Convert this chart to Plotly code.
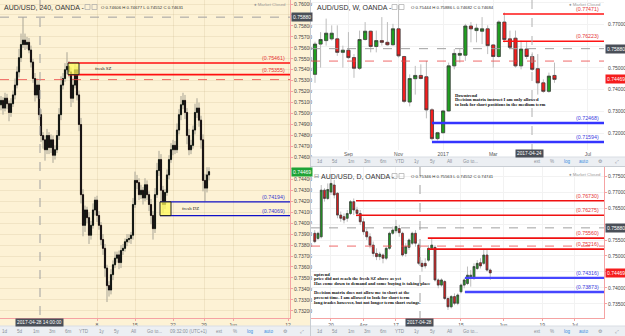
import plotly.graph_objects as go

# ======================= DATA =======================
# Left pane: AUD/USD, 240 (4-hour bars), bar index 0..104
H4_FIRST_OPEN = 0.7508
H4_CLOSE = [0.7512, 0.7505, 0.7514, 0.7509, 0.7501, 0.7509, 0.7517, 0.7526, 0.7538, 0.7551,
            0.7563, 0.7567, 0.7563, 0.7565, 0.7558, 0.7547, 0.7532, 0.7517, 0.7526, 0.7499,
            0.7480, 0.7476, 0.7467, 0.7480, 0.7469, 0.7476, 0.7462, 0.7467, 0.7480, 0.7499,
            0.7526, 0.7532, 0.7540, 0.7543, 0.7538, 0.7514, 0.7526, 0.7540, 0.7517, 0.7490,
            0.7426, 0.7398, 0.7412, 0.7405, 0.7389, 0.7398, 0.7412, 0.7421, 0.7407, 0.7398,
            0.7385, 0.7377, 0.7359, 0.7343, 0.7339, 0.7353, 0.7362, 0.7368, 0.7371, 0.7364,
            0.7375, 0.7377, 0.7383, 0.7385, 0.7386, 0.7389, 0.7417, 0.7439, 0.7437, 0.7426,
            0.7430, 0.7423, 0.7435, 0.7426, 0.7417, 0.7407, 0.7395, 0.7426, 0.7448, 0.7458,
            0.7430, 0.7417, 0.7428, 0.7444, 0.7458, 0.7467, 0.7471, 0.7467, 0.7485, 0.7499,
            0.7508, 0.7512, 0.7501, 0.7480, 0.7467, 0.7471, 0.7485, 0.7501, 0.7505, 0.7494,
            0.7476, 0.7439, 0.7432, 0.7444, 0.7447]
H4_WICK_UP_PIPS = [4, 3, 5, 4, 3, 5, 4, 6, 5, 8, 10, 21, 6, 5, 4, 4, 3, 5, 6, 4,
                   5, 3, 4, 6, 3, 5, 4, 4, 5, 6, 8, 5, 6, 13, 5, 4, 6, 5, 3, 4,
                   6, 5, 4, 3, 5, 4, 6, 3, 4, 4, 3, 5, 4, 3, 4, 5, 4, 6, 3, 4,
                   5, 4, 3, 5, 4, 3, 6, 8, 5, 4, 5, 3, 6, 4, 3, 5, 4, 6, 7, 8,
                   5, 4, 3, 5, 4, 6, 5, 4, 6, 5, 8, 7, 5, 4, 6, 5, 4, 8, 9, 5,
                   4, 5, 6, 7, 4]
H4_WICK_DN_PIPS = [5, 6, 3, 5, 8, 4, 3, 4, 3, 5, 4, 3, 5, 4, 3, 5, 4, 6, 3, 5,
                   6, 8, 10, 4, 6, 5, 7, 4, 3, 4, 5, 4, 3, 4, 5, 8, 4, 3, 5, 6,
                   8, 10, 6, 5, 8, 4, 3, 5, 6, 4, 5, 6, 8, 15, 6, 4, 5, 3, 4, 6,
                   5, 4, 3, 4, 3, 5, 4, 3, 6, 5, 4, 6, 3, 5, 6, 8, 10, 4, 3, 5,
                   10, 8, 4, 3, 4, 3, 5, 4, 3, 4, 5, 4, 6, 8, 5, 4, 3, 4, 5, 6,
                   8, 10, 12, 4, 5]
H4_TICK_POS = [48, 67, 86, 101.5, 116, 143.5]
H4_TICK_TXT = ["8", "15", "22", "29", "Jun", "12"]
H4_YTICKS = [round(0.732 + 0.001 * k, 3) for k in range(29)]
H4_SZ = [0.75461, 0.75355]
H4_DZ = [0.74194, 0.74069]
H4_SZ_BARS = [33.5, 39]
H4_DZ_BARS = [79.5, 85]

# Top-right pane: AUD/USD, W (weekly bars from late Jul 2016)
W_OPEN = [0.7470, 0.7609, 0.7625, 0.7633, 0.7633, 0.7571, 0.7581, 0.7547, 0.7498, 0.7630,
          0.7668, 0.7598, 0.7625, 0.7617, 0.7606, 0.7679, 0.7552, 0.7343, 0.7450, 0.7465,
          0.7459, 0.7307, 0.7175, 0.7202, 0.7302, 0.7509, 0.7558, 0.7558, 0.7692, 0.7671,
          0.7668, 0.7679, 0.7605, 0.7552, 0.7710, 0.7633, 0.7636, 0.7509, 0.7586, 0.7552,
          0.7496, 0.7431, 0.7392, 0.7465]
W_HIGH = [0.7620, 0.7664, 0.7726, 0.7695, 0.7695, 0.7602, 0.7664, 0.7563, 0.7671, 0.7710,
          0.7671, 0.7671, 0.7733, 0.7710, 0.7702, 0.7788, 0.7555, 0.7470, 0.7509, 0.7516,
          0.7532, 0.7315, 0.7206, 0.7307, 0.7524, 0.7586, 0.7586, 0.7702, 0.7710, 0.7702,
          0.7733, 0.7695, 0.7609, 0.7718, 0.7754, 0.7671, 0.7671, 0.7625, 0.7620, 0.7571,
          0.7563, 0.7447, 0.7478, 0.7524]
W_LOW = [0.7431, 0.7501, 0.7602, 0.7625, 0.7555, 0.7501, 0.7540, 0.7454, 0.7490, 0.7625,
         0.7571, 0.7571, 0.7602, 0.7602, 0.7602, 0.7547, 0.7338, 0.7323, 0.7377, 0.7447,
         0.7268, 0.7167, 0.7167, 0.7198, 0.7299, 0.7493, 0.7524, 0.7532, 0.7617, 0.7617,
         0.7609, 0.7563, 0.7501, 0.7547, 0.7617, 0.7586, 0.7501, 0.7493, 0.7540, 0.7485,
         0.7377, 0.7385, 0.7385, 0.7431]
W_CLOSE = [0.7609, 0.7630, 0.7659, 0.7659, 0.7571, 0.7581, 0.7547, 0.7498, 0.7630, 0.7668,
           0.7598, 0.7625, 0.7617, 0.7606, 0.7679, 0.7555, 0.7346, 0.7451, 0.7465, 0.7451,
           0.7307, 0.7175, 0.7202, 0.7302, 0.7509, 0.7566, 0.7566, 0.7692, 0.7679, 0.7682,
           0.7679, 0.7602, 0.7552, 0.7710, 0.7630, 0.7594, 0.7509, 0.7586, 0.7552, 0.7493,
           0.7431, 0.7392, 0.7462, 0.7447]
W_TICK_POS = [6, 15, 23, 32, 49]
W_TICK_TXT = ["Sep", "Nov", "2017", "Mar", "Jul"]
W_YTICKS = [0.72, 0.73, 0.74, 0.75, 0.76, 0.77, 0.78]
W_RED = [0.77471, 0.76223]
W_BLUE = [0.72468, 0.71594]
W_RED_START, W_BLUE_START = 33.75, 21

# Bottom-right pane: AUD/USD, D (daily bars 13 Mar - 26 May 2017)
D_OPEN = [0.7571, 0.7555, 0.7560, 0.7706, 0.7680, 0.7700, 0.7722, 0.7696, 0.7628, 0.7623,
          0.7618, 0.7633, 0.7670, 0.7644, 0.7633, 0.7607, 0.7576, 0.7560, 0.7534, 0.7508,
          0.7498, 0.7503, 0.7493, 0.7524, 0.7571, 0.7579, 0.7586, 0.7571, 0.7508, 0.7527,
          0.7540, 0.7571, 0.7534, 0.7477, 0.7477, 0.7487, 0.7524, 0.7527, 0.7425, 0.7409,
          0.7420, 0.7367, 0.7341, 0.7373, 0.7352, 0.7388, 0.7409, 0.7414, 0.7430, 0.7430,
          0.7461, 0.7479, 0.7477, 0.7503, 0.7456]
D_HIGH = [0.7581, 0.7576, 0.7722, 0.7712, 0.7727, 0.7743, 0.7738, 0.7700, 0.7639, 0.7633,
          0.7644, 0.7675, 0.7680, 0.7654, 0.7644, 0.7618, 0.7586, 0.7571, 0.7545, 0.7524,
          0.7513, 0.7508, 0.7529, 0.7576, 0.7592, 0.7613, 0.7597, 0.7576, 0.7540, 0.7555,
          0.7576, 0.7581, 0.7540, 0.7487, 0.7493, 0.7534, 0.7555, 0.7534, 0.7430, 0.7430,
          0.7425, 0.7373, 0.7378, 0.7383, 0.7383, 0.7414, 0.7430, 0.7467, 0.7456, 0.7477,
          0.7487, 0.7493, 0.7519, 0.7519, 0.7461]
D_LOW = [0.7540, 0.7550, 0.7555, 0.7670, 0.7675, 0.7691, 0.7680, 0.7618, 0.7607, 0.7602,
         0.7607, 0.7628, 0.7628, 0.7623, 0.7597, 0.7566, 0.7550, 0.7524, 0.7498, 0.7487,
         0.7487, 0.7477, 0.7487, 0.7519, 0.7566, 0.7571, 0.7560, 0.7498, 0.7498, 0.7519,
         0.7534, 0.7529, 0.7472, 0.7451, 0.7461, 0.7482, 0.7519, 0.7420, 0.7399, 0.7404,
         0.7362, 0.7331, 0.7336, 0.7346, 0.7346, 0.7383, 0.7399, 0.7409, 0.7404, 0.7425,
         0.7456, 0.7461, 0.7472, 0.7451, 0.7425]
D_CLOSE = [0.7545, 0.7571, 0.7706, 0.7680, 0.7708, 0.7727, 0.7691, 0.7628, 0.7618, 0.7613,
           0.7633, 0.7670, 0.7644, 0.7633, 0.7607, 0.7576, 0.7560, 0.7534, 0.7508, 0.7498,
           0.7506, 0.7493, 0.7524, 0.7571, 0.7581, 0.7592, 0.7573, 0.7503, 0.7529, 0.7550,
           0.7571, 0.7540, 0.7477, 0.7467, 0.7469, 0.7524, 0.7534, 0.7425, 0.7409, 0.7425,
           0.7367, 0.7341, 0.7373, 0.7352, 0.7378, 0.7409, 0.7425, 0.7440, 0.7440, 0.7467,
           0.7477, 0.7469, 0.7503, 0.7456, 0.7447]
D_TICK_POS = [5, 15, 25, 45, 58, 70, 80]
D_TICK_TXT = ["20", "Apr", "17", "15", "Jun", "19", "Jul"]
D_YTICKS = [0.735, 0.74, 0.745, 0.75, 0.755, 0.76, 0.765, 0.77, 0.775]
D_RED = [0.76730, 0.76275, 0.75560, 0.75216]
D_RED_START = [12.7, 12.7, 34.8, 34.8]
D_BLUE = [0.74316, 0.73873]
D_BLUE_START = 46.2

CROSS_PRICE = 0.75880
LAST_PRICE = 0.74469
ALERT_PRICE = 0.7531

TITLES = ["AUD/USD, 240, OANDA -", "AUD/USD, W, OANDA -", "AUD/USD, D, OANDA -"]
OHLC_TXT = ["O 0.74606 H 0.74677 L 0.74552 C 0.74631",
            "O 0.75444 H 0.75886 L 0.74682 C 0.74684",
            "O 0.75346 H 0.75563 L 0.74552 C 0.74741"]
W_NOTE = ["Downtrend", "Decision matrix instruct I am only allowed",
          "to look for short positions in the medium term"]
D_NOTE = ["uptrend", "price did not reach the fresh SZ above as yet",
          "Has come down to demand and some buying is taking place", "",
          "Decision matrix does not allow me to short at the",
          "present time. I am allowed to look for short term",
          "long trades however, but not longer term short swings."]

# ======================= LAYOUT HELPERS =======================
W_PX, H_PX = 625, 336
def PX(x): return x / W_PX
def PY(y): return 1 - y / H_PX

SANS = "Liberation Sans, Arial, sans-serif"
SERIF = "Liberation Serif, Times New Roman, serif"
PINK = "#f5a3a3"
CREAM = "#fdf2d5"

H4_RANGE = [-0.5, 144.5]
W_RANGE = [-0.72, 51.89]
D_RANGE = [-1.15, 89.0]
H4_YR = [0.731343, 0.760365]
W_YR = [0.71227, 0.78114]
D_YR = [0.73060, 0.77784]

fig = go.Figure()


def candles(x, o, h, l, c, xa, ya, wick, border, up, dn, blw):
    bt = [max(a, b) for a, b in zip(o, c)]
    bb = [min(a, b) for a, b in zip(o, c)]
    fig.add_trace(go.Candlestick(
        x=x, open=o, high=h, low=l, close=c, xaxis=xa, yaxis=ya,
        increasing=dict(line=dict(color=wick, width=1), fillcolor=wick),
        decreasing=dict(line=dict(color=wick, width=1), fillcolor=wick),
        whiskerwidth=0, showlegend=False, hoverinfo="skip"))
    fig.add_trace(go.Candlestick(
        x=x, open=o, high=bt, low=bb, close=c, xaxis=xa, yaxis=ya,
        increasing=dict(line=dict(color=border, width=blw), fillcolor=up),
        decreasing=dict(line=dict(color=border, width=blw), fillcolor=dn),
        whiskerwidth=0, showlegend=False, hoverinfo="skip"))


h4_open = [H4_FIRST_OPEN] + H4_CLOSE[:-1]
h4_high = [max(o, c) + u * 0.0001 for o, c, u in zip(h4_open, H4_CLOSE, H4_WICK_UP_PIPS)]
h4_low = [min(o, c) - d * 0.0001 for o, c, d in zip(h4_open, H4_CLOSE, H4_WICK_DN_PIPS)]
candles(list(range(len(H4_CLOSE))), h4_open, h4_high, h4_low, H4_CLOSE, "x", "y",
        "#a9a596", "#111111", "#2f9a2f", "#d01c1c", 1)
candles(list(range(len(W_CLOSE))), W_OPEN, W_HIGH, W_LOW, W_CLOSE, "x2", "y2",
        "#bdbdbd", "#3a3a3a", "#1fa01f", "#f51d1d", 0.7)
candles(list(range(len(D_CLOSE))), D_OPEN, D_HIGH, D_LOW, D_CLOSE, "x3", "y3",
        "#bdbdbd", "#3a3a3a", "#1fa01f", "#e81a1a", 0.7)

shapes = []
ann = []


def rect_px(x0, y0, x1, y1, fill, line=None, lw=0, layer="below"):
    shapes.append(dict(type="rect", xref="paper", yref="paper", x0=PX(x0), x1=PX(x1),
                       y0=PY(y1), y1=PY(y0), fillcolor=fill,
                       line=dict(color=line or fill, width=lw), layer=layer))


def line_px(x0, y0, x1, y1, color, width=1, dash="solid", layer="above"):
    shapes.append(dict(type="line", xref="paper", yref="paper", x0=PX(x0), x1=PX(x1),
                       y0=PY(y0), y1=PY(y1), line=dict(color=color, width=width, dash=dash),
                       layer=layer))


def txt(x, y, s, size, color="#333", xanchor="left", family=SANS, bg=None, yanchor="middle"):
    d = dict(x=PX(x), y=PY(y), xref="paper", yref="paper", text=s, showarrow=False,
             xanchor=xanchor, yanchor=yanchor, font=dict(size=size, color=color, family=family),
             borderpad=1 if bg else 0)
    if bg:
        d["bgcolor"] = bg
    ann.append(d)


def tick_text(vals, yr, h_px):
    ppu = h_px / (yr[1] - yr[0])
    return ["" if min(abs(v - CROSS_PRICE), abs(v - LAST_PRICE)) * ppu < 6 else f"{v:.5f}"
            for v in vals]


# backgrounds
rect_px(0, 0, 310, 326, CREAM)
rect_px(311, 0, 625, 157, "#ffffff")
rect_px(311, 167, 625, 326, "#ffffff")
# toolbars
for (x0, y0, x1, y1) in [(0, 326, 310, 336), (311, 157, 625, 166.5), (311, 326, 625, 336)]:
    rect_px(x0, y0, x1, y1, "#eceff3", layer="above")
    line_px(x0, y0, x1, y0, "#d9dee4", 1)
# separators
line_px(310.5, 0, 310.5, 336, "#c8cdd3", 1)
line_px(311, 166.5, 625, 166.5, "#c8cdd3", 1)

# ---- level lines (data coordinates) ----
for v in H4_SZ:
    shapes.append(dict(type="line", xref="x", yref="y", x0=H4_SZ_BARS[0], x1=H4_RANGE[1],
                       y0=v, y1=v, line=dict(color="#ff1010", width=1.6)))
for v in H4_DZ:
    shapes.append(dict(type="line", xref="x", yref="y", x0=H4_DZ_BARS[0], x1=H4_RANGE[1],
                       y0=v, y1=v, line=dict(color="#1010c8", width=1.3)))
shapes.append(dict(type="rect", xref="x", yref="y", x0=H4_SZ_BARS[0], x1=H4_SZ_BARS[1],
                   y0=H4_SZ[1], y1=H4_SZ[0], fillcolor="rgba(255,250,90,0.75)",
                   line=dict(color="#222", width=1)))
shapes.append(dict(type="rect", xref="x", yref="y", x0=H4_DZ_BARS[0], x1=H4_DZ_BARS[1],
                   y0=H4_DZ[1], y1=H4_DZ[0], fillcolor="rgba(255,250,90,0.75)",
                   line=dict(color="#222", width=1)))
for v in W_RED:
    shapes.append(dict(type="line", xref="x2", yref="y2", x0=W_RED_START, x1=W_RANGE[1],
                       y0=v, y1=v, line=dict(color="#ff1414", width=1.6)))
for v in W_BLUE:
    shapes.append(dict(type="line", xref="x2", yref="y2", x0=W_BLUE_START, x1=W_RANGE[1],
                       y0=v, y1=v, line=dict(color="#3434ff", width=2.4)))
for v, s in zip(D_RED, D_RED_START):
    shapes.append(dict(type="line", xref="x3", yref="y3", x0=s, x1=D_RANGE[1],
                       y0=v, y1=v, line=dict(color="#f01010", width=1.6)))
for v in D_BLUE:
    shapes.append(dict(type="line", xref="x3", yref="y3", x0=D_BLUE_START, x1=D_RANGE[1],
                       y0=v, y1=v, line=dict(color="#4646ff", width=2.4)))

# crosshair / alert lines
for xa, ya in [("x", "y"), ("x2", "y2"), ("x3", "y3")]:
    shapes.append(dict(type="line", xref=xa + " domain", yref=ya, x0=0, x1=1,
                       y0=CROSS_PRICE, y1=CROSS_PRICE,
                       line=dict(color="#a0a0a0", width=1, dash="dash")))
    shapes.append(dict(type="line", xref=xa + " domain", yref=ya, x0=0, x1=1,
                       y0=ALERT_PRICE, y1=ALERT_PRICE,
                       line=dict(color="rgba(235,70,70,0.8)", width=1, dash="dash")))
line_px(40, 0, 40, 318, "#a0a0a0", 1, "dash")
line_px(532, 0, 532, 150, "#b0b0b0", 1, "dash")
line_px(420, 167, 420, 318, "#a0a0a0", 1, "dash")

# level labels
def level_label(v, xp, ya, color):
    ann.append(dict(x=PX(xp), xref="paper", y=v, yref=ya, text=f"({v:.5f})", showarrow=False,
                    xanchor="right", yanchor="bottom",
                    font=dict(size=5.3, color=color, family=SANS)))

for v in H4_SZ:
    level_label(v, 287, "y", "#e53535")
for v in H4_DZ:
    level_label(v, 287, "y", "#3a3ad0")
for v in W_RED:
    level_label(v, 601, "y2", "#e53535")
for v in W_BLUE:
    level_label(v, 601, "y2", "#4040e0")
for v in D_RED:
    level_label(v, 601, "y3", "#e53535")
for v in D_BLUE:
    level_label(v, 601, "y3", "#4040e0")

# zone captions
ann.append(dict(x=51, xref="x", y=(H4_SZ[0] + H4_SZ[1]) / 2, yref="y", text="fresh SZ",
                showarrow=False, font=dict(size=4.8, color="#222", family=SERIF)))
ann.append(dict(x=94.5, xref="x", y=(H4_DZ[0] + H4_DZ[1]) / 2, yref="y", text="fresh DZ",
                showarrow=False, font=dict(size=4.8, color="#222", family=SERIF)))

# price boxes on axes
for ya, xp, lastbg in [("y", 291, "#1fa336"), ("y2", 605, "#f51d1d"), ("y3", 605, "#f51d1d")]:
    ann.append(dict(x=PX(xp), xref="paper", y=CROSS_PRICE, yref=ya, text=f"{CROSS_PRICE:.5f}",
                    showarrow=False, xanchor="left", bgcolor="#4a4f58", borderpad=1,
                    font=dict(size=5, color="white", family=SANS)))
    ann.append(dict(x=PX(xp), xref="paper", y=LAST_PRICE, yref=ya, text=f"{LAST_PRICE:.5f}",
                    showarrow=False, xanchor="left", bgcolor=lastbg, borderpad=1,
                    font=dict(size=5, color="white", family=SANS)))

# date boxes
txt(39, 322, "2017-04-28 14:00:00", 4.8, "white", "center", bg="#4a4f58")
txt(529, 154, "2017-04-24", 4.8, "white", "center", bg="#4a4f58")
txt(419.5, 322.5, "2017-04-28", 4.8, "white", "center", bg="#4a4f58")

# headers
for (x, y), t, (ox, oy), mc, ohlc in zip([(3, 7), (316, 7), (320, 176)], TITLES,
                                         [(100, 7), (410, 7), (410, 176)],
                                         [(287, 5), (602, 5), (602, 174.5)], OHLC_TXT):
    txt(x, y, t, 7, "#333")
    txt(ox, oy, ohlc, 4.3, "#333")
    txt(mc[0], mc[1], "● Market Closed", 4.3, "#9a9a9a", "right")
for bx, by in [(85, 7), (92, 7), (392, 7), (399, 7), (392, 176), (399, 176)]:
    rect_px(bx, by - 2.5, bx + 5, by + 2.5, "rgba(0,0,0,0)", "#aaaaaa", 0.7, "above")
txt(313, 176, "⊟", 5.5, "#777")

# notes
for k, s in enumerate(W_NOTE):
    txt(454, 95 + 4.75 * k, "<b>" + s + "</b>", 4.6, "#111", family=SERIF)
for k, s in enumerate(D_NOTE):
    if s:
        txt(313, 274 + 4.7 * k, "<b>" + s + "</b>", 4.6, "#111", family=SERIF)

# toolbars
left_items = [("1d", 5), ("5d", 20), ("1m", 36), ("3m", 52), ("6m", 68), ("YTD", 84), ("1y", 102),
              ("5y", 117), ("All", 133), ("Go to...", 154), ("09:32:00 (UTC+1)", 188), ("ext", 219),
              ("%", 235), ("log", 250), ("auto", 268), ("⚙", 285), ("⤢", 302)]
right_items = [("1d", 320), ("5d", 335), ("1m", 351), ("3m", 367), ("6m", 383), ("YTD", 400),
               ("1y", 417), ("5y", 433), ("All", 449), ("Go to...", 470), ("ext", 537), ("%", 552),
               ("log", 567), ("auto", 583), ("⚙", 600), ("⤢", 617)]
for items, yy in [(left_items, 331.5), (right_items, 161.5), (right_items, 331.5)]:
    for s, xx in items:
        col = "#3d8fe0" if s in ("log", "auto") else "#8a9099"
        txt(xx, yy, s, 4.6, col, "center")

axis_common = dict(zeroline=False, fixedrange=True, showspikes=False)
fig.update_layout(
    width=W_PX, height=H_PX, margin=dict(l=0, r=0, t=0, b=0), boxgap=0.2,
    paper_bgcolor="white", plot_bgcolor="rgba(0,0,0,0)", showlegend=False,
    shapes=shapes, annotations=ann,
    xaxis=dict(domain=[PX(0), PX(290)], range=H4_RANGE, anchor="y", tickvals=H4_TICK_POS,
               ticktext=H4_TICK_TXT, showgrid=True, gridcolor="rgba(190,165,120,0.18)",
               showline=True, linecolor=PINK, ticks="outside", ticklen=2, tickcolor=PINK,
               tickfont=dict(size=5, color="#555", family=SANS), rangeslider=dict(visible=False),
               **axis_common),
    yaxis=dict(domain=[PY(318), PY(0)], range=H4_YR, anchor="x", side="right",
               tickvals=H4_YTICKS, ticktext=tick_text(H4_YTICKS, H4_YR, 318), showgrid=True,
               gridcolor="rgba(190,165,120,0.18)", showline=True, linecolor=PINK, ticks="outside",
               ticklen=2, tickcolor=PINK, tickfont=dict(size=5, color="#444", family=SANS),
               **axis_common),
    xaxis2=dict(domain=[PX(311), PX(604)], range=W_RANGE, anchor="y2", tickvals=W_TICK_POS,
                ticktext=W_TICK_TXT, showgrid=True, gridcolor="#f2f2f2", showline=False,
                ticks="", tickfont=dict(size=5, color="#555", family=SANS),
                rangeslider=dict(visible=False), **axis_common),
    yaxis2=dict(domain=[PY(150), PY(0)], range=W_YR, anchor="x2", side="right",
                tickvals=W_YTICKS, ticktext=tick_text(W_YTICKS, W_YR, 150), showgrid=True,
                gridcolor="#f2f2f2", showline=False, ticks="outside", ticklen=2, tickcolor="white",
                tickfont=dict(size=5, color="#444", family=SANS), **axis_common),
    xaxis3=dict(domain=[PX(311), PX(604)], range=D_RANGE, anchor="y3", tickvals=D_TICK_POS,
                ticktext=D_TICK_TXT, showgrid=True, gridcolor="#f2f2f2", showline=True,
                linecolor=PINK, ticks="outside", ticklen=2, tickcolor=PINK,
                tickfont=dict(size=5, color="#555", family=SANS),
                rangeslider=dict(visible=False), **axis_common),
    yaxis3=dict(domain=[PY(318), PY(167)], range=D_YR, anchor="x3", side="right",
                tickvals=D_YTICKS, ticktext=tick_text(D_YTICKS, D_YR, 151), showgrid=True,
                gridcolor="#f2f2f2", showline=True, linecolor=PINK, ticks="outside", ticklen=2,
                tickcolor=PINK, tickfont=dict(size=5, color="#444", family=SANS), **axis_common),
)

fig.write_html("out.html")
